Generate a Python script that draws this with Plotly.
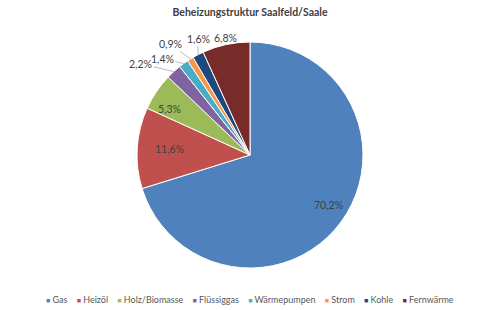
import math
import plotly.graph_objects as go

labels = ["Gas", "Heizöl", "Holz/Biomasse", "Flüssiggas", "Wärmepumpen", "Strom", "Kohle", "Fernwärme"]
values = [70.2, 11.6, 5.3, 2.2, 1.4, 0.9, 1.6, 6.8]
text_labels = ["70,2%", "11,6%", "5,3%", "2,2%", "1,4%", "0,9%", "1,6%", "6,8%"]

# styling
colors = ["#4F81BD", "#C0504D", "#9BBB59", "#8064A2", "#4BACC6", "#F79646", "#1F497D", "#772C2A"]
inside = [True, True, True, False, False, False, False, False]
label_off = [(0, 0), (0, 0), (0, 0), (-33, -8), (-21, -5), (-20, -15), (0, -16), (-1, -7)]
W, H = 500, 310
CX, CY, R = 250, 155, 113
FONT = "Lato"
TXT = "#404040"

def px2paper(x, y):
    return x / W, 1 - y / H

fig = go.Figure(go.Pie(
    labels=labels, values=values, sort=False, direction="clockwise", rotation=0,
    marker=dict(colors=colors, line=dict(color="white", width=1)),
    textinfo="none", showlegend=False,
    domain=dict(x=[(CX - R) / W, (CX + R) / W], y=[1 - (CY + R) / H, 1 - (CY - R) / H]),
    hoverinfo="label+percent",
))

total = sum(values)
cum = 0.0
annotations = []
for i, v in enumerate(values):
    theta = 2 * math.pi * (cum + v / 2) / total
    cum += v
    dx, dy = math.sin(theta), -math.cos(theta)
    if inside[i]:
        x, y = px2paper(CX + 0.86 * R * dx, CY + 0.86 * R * dy)
        annotations.append(dict(x=x, y=y, xref="paper", yref="paper", text=text_labels[i],
                                showarrow=False, font=dict(family=FONT, size=10.5, color=TXT)))
    else:
        x, y = px2paper(CX + R * dx, CY + R * dy)
        ax, ay = label_off[i]
        annotations.append(dict(x=x, y=y, xref="paper", yref="paper", text=text_labels[i],
                                showarrow=True, arrowhead=0, arrowwidth=0.8, arrowcolor="#A6A6A6",
                                ax=ax, ay=ay, font=dict(family=FONT, size=10.5, color=TXT)))

# legend row built from labels and colors
sep = "&nbsp;&nbsp;&nbsp;&nbsp;"
legend_text = sep.join(
    f'<span style="color:{c};font-size:7px">■</span>&nbsp;{l}' for l, c in zip(labels, colors)
)
annotations.append(dict(x=0.5, y=1 - 299 / H, xref="paper", yref="paper", text=legend_text,
                        showarrow=False, xanchor="center", yanchor="middle",
                        font=dict(family=FONT, size=9, color="#595959")))

fig.update_layout(
    width=W, height=H, margin=dict(l=0, r=0, t=0, b=0),
    paper_bgcolor="white", plot_bgcolor="white",
    title=dict(text="<b>Beheizungstruktur Saalfeld/Saale</b>", x=0.5, y=1 - 12 / H,
               xanchor="center", yanchor="middle",
               font=dict(family=FONT, size=10.5, color=TXT)),
    annotations=annotations,
)
fig.write_html("out.html")
